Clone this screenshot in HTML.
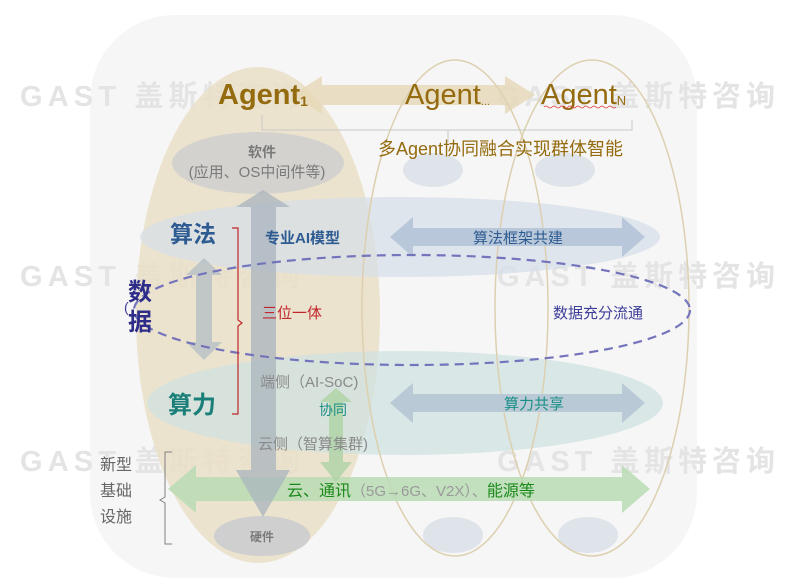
<!DOCTYPE html>
<html><head><meta charset="utf-8"><style>
html,body{margin:0;padding:0;background:#fff;}
svg{display:block;font-family:"Liberation Sans","Noto Sans CJK SC",sans-serif;}
</style></head><body>
<svg width="800" height="586" viewBox="0 0 800 586" xmlns="http://www.w3.org/2000/svg">
<rect x="90" y="15" width="607" height="563" rx="85" fill="#f6f6f6"/>
<!-- watermarks -->
<g fill="#e4e4e4" font-size="29" font-weight="bold">
<text x="20" y="106" textLength="280" lengthAdjust="spacing">GAST 盖斯特咨询</text>
<text x="20" y="286" textLength="280" lengthAdjust="spacing">GAST 盖斯特咨询</text>
<text x="20" y="471" textLength="280" lengthAdjust="spacing">GAST 盖斯特咨询</text>
<text x="497" y="106" textLength="278" lengthAdjust="spacing">GAST 盖斯特咨询</text>
<text x="497" y="286" textLength="278" lengthAdjust="spacing">GAST 盖斯特咨询</text>
<text x="497" y="471" textLength="278" lengthAdjust="spacing">GAST 盖斯特咨询</text>
</g>
<!-- Agent1 ellipse -->
<ellipse cx="258" cy="315" rx="122" ry="248" fill="#eadfc4" fill-opacity="0.8"/>
<!-- top arrow -->
<polygon points="292,95 322,76 322,85 505,85 505,76 535,95 505,114 505,105 322,105 322,114" fill="#e6d8b8" fill-opacity="0.8"/>
<!-- bands -->
<ellipse cx="400" cy="237" rx="260" ry="40" fill="#d5deea" fill-opacity="0.7"/>
<ellipse cx="405" cy="403" rx="258" ry="52" fill="#cde1e1" fill-opacity="0.7"/>
<ellipse cx="258" cy="163" rx="86" ry="31" fill="#cfcfcf" fill-opacity="0.85"/>
<ellipse cx="433" cy="170" rx="30" ry="17" fill="#dfe3ea"/>
<ellipse cx="565" cy="170" rx="30" ry="17" fill="#dfe3ea"/>
<ellipse cx="262" cy="536" rx="48" ry="20" fill="#cfcfcf"/>
<ellipse cx="453" cy="535" rx="30" ry="18" fill="#dfe3ea"/>
<ellipse cx="588" cy="535" rx="30" ry="18" fill="#dfe3ea"/>
<!-- agent outlines -->
<ellipse cx="455" cy="308" rx="93" ry="248" fill="none" stroke="#ddd0b0" stroke-width="1.5"/>
<ellipse cx="592" cy="308" rx="97" ry="248" fill="none" stroke="#ddd0b0" stroke-width="1.5"/>
<!-- connector -->
<path d="M262 115 V130 H632 V120 M448 130 V142" fill="none" stroke="#c8c8c8" stroke-width="1"/>
<!-- blue double arrows -->
<polygon points="390,237 413,217 413,228 622,228 622,217 645,237 622,257 622,246 413,246 413,257" fill="#b8c8da"/>
<polygon points="390,403 413,383 413,394 622,394 622,383 645,403 622,423 622,412 413,412 413,423" fill="#b9cad6"/>
<!-- green horizontal arrow -->
<polygon points="168,489 196,465 196,477 622,477 622,465 650,489 622,513 622,501 196,501 196,513" fill="#b9dcb4" fill-opacity="0.85"/>
<!-- vertical gray arrow -->
<polygon points="263,190 290,207 276,207 276,470 290,470 263,517 236,470 251,470 251,207 236,207" fill="#aab4bd" fill-opacity="0.75"/>
<!-- data arrow -->
<polygon points="204,258 222,275 212,275 212,342 222,342 204,360 186,342 196,342 196,275 186,275" fill="#b6bfc6" fill-opacity="0.8"/>
<!-- green vertical arrow -->
<polygon points="336,388 352,402 343,402 343,462 352,462 336,482 320,462 329,462 329,402 320,402" fill="#b0d4a8" fill-opacity="0.85"/>
<!-- dashed ellipse -->
<ellipse cx="412" cy="310" rx="278" ry="55" fill="none" stroke="#7474bc" stroke-width="2.2" stroke-dasharray="9,6"/>
<!-- red bracket -->
<path d="M232 228 H238 V320 L242 323 L238 326 V414 H232" fill="none" stroke="#c0262b" stroke-width="1.2"/>
<!-- gray bracket -->
<path d="M172 452 H165 V497 L160 500 L165 503 V544 H172" fill="none" stroke="#808080" stroke-width="1"/>
<!-- texts -->
<text x="218" y="104" font-size="29" font-weight="bold" fill="#946b0e">Agent<tspan font-size="14" dy="2">1</tspan></text>
<text x="405" y="104" font-size="29" fill="#946b0e">Agent<tspan font-size="11" dy="1">...</tspan></text>
<text x="541" y="104" font-size="29" fill="#946b0e">Agent<tspan font-size="13" dy="1">N</tspan></text>
<path d="M544 107 q2 -2 4 0 t4 0 t4 0 t4 0 t4 0 t4 0 t4 0 t4 0 t4 0 t4 0 t4 0 t4 0 t4 0 t4 0 t4 0 t4 0 t4 0 t4 0" fill="none" stroke="#e03a3a" stroke-width="0.8"/>
<text x="378" y="155" font-size="18" fill="#946b0e">多Agent协同融合实现群体智能</text>
<text x="262" y="157" font-size="14" font-weight="bold" fill="#7a7a7a" text-anchor="middle">软件</text>
<text x="257" y="177" font-size="15" fill="#7a7a7a" text-anchor="middle">(应用、OS中间件等)</text>
<text x="170" y="242" font-size="23" font-weight="bold" fill="#2e5c92">算法</text>
<text x="265" y="243" font-size="15" font-weight="bold" fill="#2e5c92">专业AI模型</text>
<text x="518" y="243" font-size="15" fill="#2e5c92" text-anchor="middle">算法框架共建</text>
<text x="124" y="312" font-size="14" fill="#3e3e9a">(</text>
<text x="128" y="300" font-size="24" font-weight="bold" fill="#2e2e8a">数</text>
<text x="128" y="330" font-size="24" font-weight="bold" fill="#2e2e8a">据</text>
<text x="262" y="318" font-size="15" fill="#c0262b">三位一体</text>
<text x="553" y="318" font-size="15" fill="#3e3e9a">数据充分流通</text>
<text x="260" y="387" font-size="15" fill="#8a8a8a">端侧（AI-SoC)</text>
<text x="168" y="413" font-size="24" font-weight="bold" fill="#1a7f78">算力</text>
<text x="319" y="415" font-size="14" fill="#1a8f88">协同</text>
<text x="534" y="409" font-size="15" fill="#1a8f88" text-anchor="middle">算力共享</text>
<text x="258" y="449" font-size="15" fill="#8a8a8a">云侧（智算集群)</text>
<text x="287" y="496" font-size="16" fill="#1a8a1a">云、通讯<tspan fill="#9a9a9a" font-size="15">（5G→6G、V2X）、</tspan>能源等</text>
<text x="262" y="541" font-size="12" font-weight="bold" fill="#7a7a7a" text-anchor="middle">硬件</text>
<text x="100" y="470" font-size="16" fill="#666">新型</text>
<text x="100" y="496" font-size="16" fill="#666">基础</text>
<text x="100" y="522" font-size="16" fill="#666">设施</text>
</svg>
</body></html>
